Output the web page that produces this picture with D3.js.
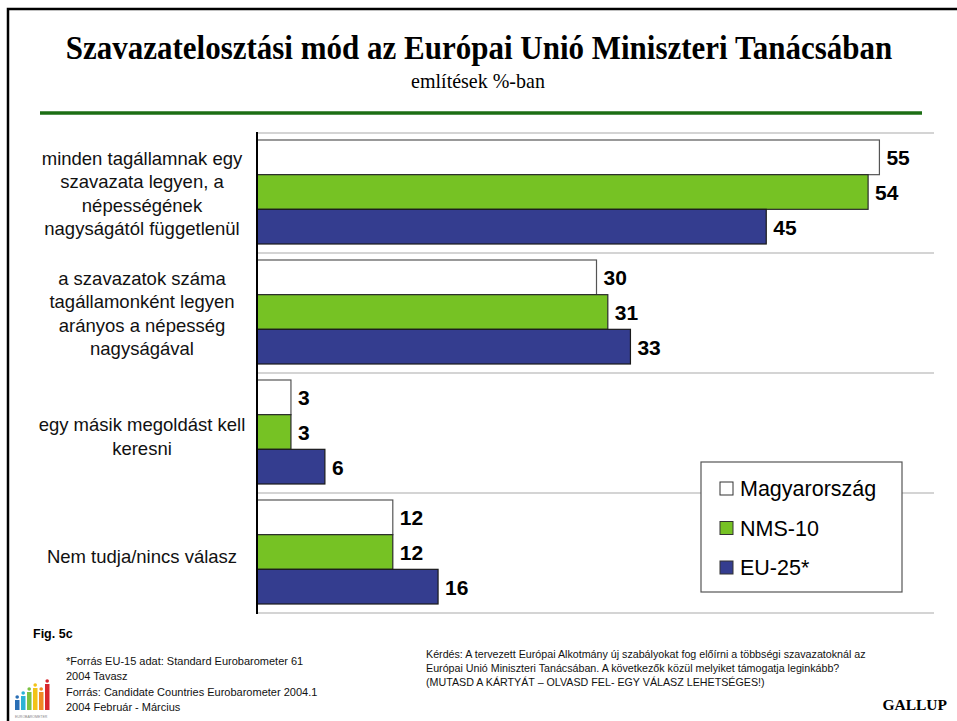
<!DOCTYPE html>
<html>
<head>
<meta charset="utf-8">
<script src="https://cdn.jsdelivr.net/npm/d3@7/dist/d3.min.js"></script>
<style>
  body { margin: 0; background: #fff; }
  svg { display: block; }
</style>
</head>
<body>
<svg id="chart" width="957" height="721"></svg>
<script>
// chart data
const categories = [
  ['minden tagállamnak egy', 'szavazata legyen, a', 'népességének', 'nagyságától függetlenül'],
  ['a szavazatok száma', 'tagállamonként legyen', 'arányos a népesség', 'nagyságával'],
  ['egy másik megoldást kell', 'keresni'],
  ['Nem tudja/nincs válasz']
]
const seriesNames = ['Magyarország', 'NMS-10', 'EU-25*']
const hungary = [55, 30, 3, 12]
const nms10 = [54, 31, 3, 12]
const eu25 = [45, 33, 6, 16]
const seriesColors = ['#ffffff', '#76c224', '#343d8f']
const seriesStroke = ['#555555', '#2a2a2a', '#1a1a1a']

const footLeft = [
  '*Forrás EU-15 adat: Standard Eurobarometer 61',
  '2004 Tavasz',
  'Forrás: Candidate Countries Eurobarometer 2004.1',
  '2004 Február - Március'
]
const footRight = [
  'Kérdés:  A tervezett Európai Alkotmány új szabályokat fog előírni a többségi szavazatoknál az',
  'Európai Unió Miniszteri Tanácsában.  A következők közül melyiket támogatja leginkább?',
  '(MUTASD A KÁRTYÁT – OLVASD FEL- EGY VÁLASZ LEHETSÉGES!)'
]

const svg = d3.select('#chart')
const sans = 'Liberation Sans, Arial, sans-serif'
const serif = 'Liberation Serif, Times New Roman, serif'

// frame
svg.append('path').attr('d', 'M8,721 V9 H957').attr('fill', 'none').attr('stroke', '#000').attr('stroke-width', 2.5)

// title (slightly stretched vertically like the condensed original)
svg.append('text').attr('transform', 'translate(479,59) scale(1,1.12)').attr('text-anchor', 'middle')
  .attr('font-family', serif).attr('font-weight', 'bold').attr('font-size', 31)
  .text('Szavazatelosztási mód az Európai Unió Miniszteri Tanácsában')
svg.append('text').attr('transform', 'translate(478,88) scale(1,1.1)').attr('text-anchor', 'middle')
  .attr('font-family', serif).attr('font-size', 20)
  .text('említések %-ban')
svg.append('line').attr('x1', 40).attr('x2', 922).attr('y1', 113).attr('y2', 113)
  .attr('stroke', '#1c6e14').attr('stroke-width', 3.5)

// scales
const x = d3.scaleLinear().domain([0, 60]).range([257, 936])
const y = d3.scaleBand().domain(d3.range(categories.length)).range([133, 613])
const ySub = d3.scaleBand().domain(d3.range(seriesNames.length)).range([7, y.bandwidth() - 9])

const rows = categories.map((c, i) => ({ lines: c, values: [hungary[i], nms10[i], eu25[i]] }))

// grid lines
svg.append('g').selectAll('line')
  .data(d3.range(categories.length + 1))
  .join('line')
  .attr('x1', x(0)).attr('x2', x(60) - 2)
  .attr('y1', d => d === categories.length ? y.range()[1] : y(d))
  .attr('y2', d => d === categories.length ? y.range()[1] : y(d))
  .attr('stroke', '#d4d4d4').attr('stroke-width', 2)

// bars
const groups = svg.append('g').selectAll('g')
  .data(rows)
  .join('g')
  .attr('transform', (d, i) => `translate(0,${y(i)})`)

groups.selectAll('rect')
  .data(d => d.values)
  .join('rect')
  .attr('x', x(0))
  .attr('y', (d, j) => ySub(j))
  .attr('width', d => x(d) - x(0))
  .attr('height', ySub.bandwidth())
  .attr('fill', (d, j) => seriesColors[j])
  .attr('stroke', (d, j) => seriesStroke[j])
  .attr('stroke-width', 1.2)

groups.selectAll('text.val')
  .data(d => d.values)
  .join('text')
  .attr('class', 'val')
  .attr('x', d => x(d) + 7)
  .attr('y', (d, j) => ySub(j) + ySub.bandwidth() / 2 + 8)
  .attr('font-family', sans).attr('font-weight', 'bold').attr('font-size', 21)
  .text(d => d)

// category labels
groups.append('text')
  .attr('font-family', sans).attr('font-size', 18.5).attr('fill', '#111')
  .attr('text-anchor', 'middle')
  .each(function (d) {
    const n = d.lines.length
    const t = d3.select(this)
    d.lines.forEach((line, k) => {
      t.append('tspan').attr('x', 142)
        .attr('y', y.bandwidth() / 2 + 7 + (k - (n - 1) / 2) * 23.3 + (n < 4 ? 3 : 0))
        .text(line)
    })
  })

// axis line
svg.append('line').attr('x1', x(0)).attr('x2', x(0)).attr('y1', 132).attr('y2', 614)
  .attr('stroke', '#000').attr('stroke-width', 2)

// legend
const legend = svg.append('g').attr('transform', 'translate(701,462)')
legend.append('rect').attr('width', 201).attr('height', 130)
  .attr('fill', '#fff').attr('stroke', '#555').attr('stroke-width', 1.2)
const li = legend.selectAll('g').data(seriesNames).join('g')
  .attr('transform', (d, i) => `translate(19,${26 + i * 39.5})`)
li.append('rect').attr('x', 0).attr('y', -6).attr('width', 13).attr('height', 13)
  .attr('fill', (d, i) => seriesColors[i]).attr('stroke', '#333').attr('stroke-width', 1)
li.append('text').attr('x', 20).attr('y', 8)
  .attr('font-family', sans).attr('font-size', 21.5)
  .text(d => d)

// footer
svg.append('text').attr('x', 33).attr('y', 638)
  .attr('font-family', sans).attr('font-weight', 'bold').attr('font-size', 12.5)
  .text('Fig. 5c')
svg.append('g').selectAll('text').data(footLeft).join('text')
  .attr('x', 66).attr('y', (d, i) => 665 + i * 15.3)
  .attr('font-family', sans).attr('font-size', 11).attr('fill', '#111')
  .text(d => d)
svg.append('g').selectAll('text').data(footRight).join('text')
  .attr('x', 426).attr('y', (d, i) => 658 + i * 14)
  .attr('font-family', sans).attr('font-size', 10.7).attr('fill', '#111')
  .text(d => d)
svg.append('text').attr('x', 947).attr('y', 710).attr('text-anchor', 'end')
  .attr('font-family', serif).attr('font-weight', 'bold').attr('font-size', 15.5)
  .text('GALLUP')

// eurobarometer logo
const logoBars = [
  { c: '#2a6fb5', h: 10 }, { c: '#2bb3d6', h: 14 }, { c: '#7cc242', h: 18 },
  { c: '#f2c318', h: 22 }, { c: '#f08a24', h: 18 }, { c: '#d8262d', h: 26 }
]
const logo = svg.append('g').attr('transform', 'translate(15,710)')
logo.selectAll('rect').data(logoBars).join('rect')
  .attr('x', (d, i) => i * 6).attr('y', d => -d.h)
  .attr('width', 4.5).attr('height', d => d.h).attr('fill', d => d.c)
logo.selectAll('circle').data(logoBars).join('circle')
  .attr('cx', (d, i) => i * 6 + 2.2).attr('cy', d => -d.h - 3)
  .attr('r', 1.8).attr('fill', d => d.c)
logo.append('text').attr('x', 0).attr('y', 8).attr('font-family', sans).attr('font-size', 3.5)
  .attr('fill', '#888').text('EUROBAROMETER')
</script>
</body>
</html>
